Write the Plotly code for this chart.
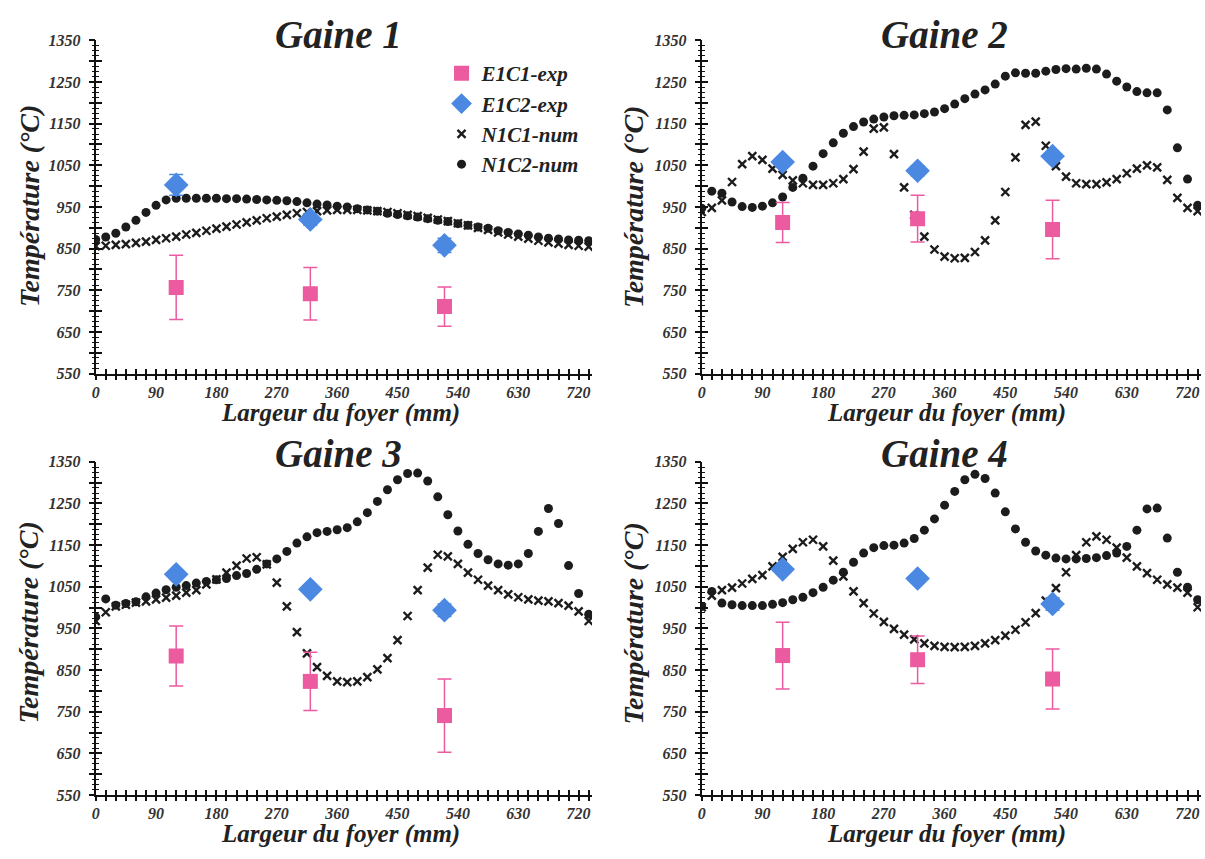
import plotly.graph_objects as go

# ---------------- data ----------------
x_mm = [0, 15, 30, 45, 60, 75, 90, 105, 120, 135, 150, 165, 180, 195, 210, 225, 240, 255,
        270, 285, 300, 315, 330, 345, 360, 375, 390, 405, 420, 435, 450, 465, 480, 495,
        510, 525, 540, 555, 570, 585, 600, 615, 630, 645, 660, 675, 690, 705, 720, 735]
x_exp = [120, 320, 520]

panel_titles = ["Gaine 1", "Gaine 2", "Gaine 3", "Gaine 4"]
series_names = ["E1C1-exp", "E1C2-exp", "N1C1-num", "N1C2-num"]
x_tick_vals = [0, 90, 180, 270, 360, 450, 540, 630, 720]
y_tick_vals = [550, 650, 750, 850, 950, 1050, 1150, 1250, 1350]

# Gaine 1
g1_e1c1 = [757, 742, 711]
g1_e1c1_err = [77, 63, 47]
g1_e1c2 = [1003, 920, 858]
g1_e1c2_err = [25, 14, 17]
g1_n1c1 = [856, 857, 859, 861, 864, 867, 871, 875, 879, 884, 888, 893, 898, 903, 908, 913, 918, 923,
           927, 931, 935, 938, 940, 942, 943, 943, 943, 942, 940, 938, 935, 931, 928, 924,
           920, 916, 911, 906, 900, 895, 889, 884, 879, 874, 869, 865, 862, 859, 857, 855]
g1_n1c2 = [872, 878, 887, 902, 918, 937, 954, 967, 971, 971, 971, 971, 971, 970, 970, 969, 968, 967,
           966, 965, 963, 960, 957, 955, 952, 950, 946, 943, 940, 935, 932, 929, 926, 922,
           918, 915, 910, 906, 902, 899, 893, 889, 885, 882, 878, 875, 873, 871, 870, 869]

# Gaine 2
g2_e1c1 = [913, 922, 896]
g2_e1c1_err = [48, 56, 70]
g2_e1c2 = [1058, 1037, 1072]
g2_e1c2_err = [10, 12, 10]
g2_n1c1 = [938, 948, 966, 1010, 1053, 1072, 1063, 1042, 1027, 1014, 1007, 1003, 1003, 1007, 1017, 1041,
           1083, 1138, 1141, 1077, 997, 931, 879, 848, 831, 827, 828, 842, 870, 918, 986, 1069,
           1147, 1155, 1097, 1048, 1023, 1007, 1005, 1005, 1009, 1017, 1031, 1042, 1050, 1045,
           1015, 972, 948, 940]
g2_n1c2 = [947, 988, 983, 962, 951, 949, 952, 960, 974, 997, 1019, 1048, 1078, 1104, 1127, 1143,
           1154, 1161, 1166, 1169, 1170, 1171, 1174, 1178, 1186, 1197, 1210, 1221, 1231, 1245,
           1264, 1272, 1271, 1271, 1276, 1280, 1282, 1281, 1283, 1281, 1269, 1252, 1238, 1227,
           1224, 1224, 1183, 1092, 1017, 954]

# Gaine 3
g3_e1c1 = [884, 823, 741]
g3_e1c1_err = [72, 70, 88]
g3_e1c2 = [1080, 1044, 994]
g3_e1c2_err = [10, 10, 15]
g3_n1c1 = [968, 989, 1003, 1007, 1012, 1015, 1020, 1024, 1029, 1036, 1042, 1056, 1068, 1084, 1101,
           1118, 1121, 1104, 1060, 1003, 941, 890, 857, 836, 823, 821, 823, 833, 852, 879, 922,
           980, 1042, 1096, 1127, 1123, 1105, 1084, 1067, 1053, 1042, 1032, 1025, 1020, 1017,
           1015, 1011, 1005, 991, 968]
g3_n1c2 = [978, 1021, 1006, 1010, 1014, 1026, 1035, 1043, 1049, 1053, 1059, 1063, 1067, 1070, 1077,
           1082, 1092, 1105, 1117, 1135, 1155, 1170, 1180, 1183, 1187, 1192, 1206, 1228, 1255,
           1283, 1307, 1322, 1323, 1304, 1266, 1223, 1184, 1152, 1130, 1115, 1105, 1102, 1105,
           1130, 1183, 1238, 1202, 1101, 1034, 984]

# Gaine 4
g4_e1c1 = [885, 875, 829]
g4_e1c1_err = [80, 57, 72]
g4_e1c2 = [1092, 1070, 1009]
g4_e1c2_err = [10, 10, 15]
g4_n1c1 = [1001, 1029, 1042, 1048, 1058, 1069, 1078, 1099, 1122, 1141, 1157, 1163, 1147, 1113, 1075,
           1039, 1011, 986, 966, 949, 935, 924, 914, 908, 906, 905, 906, 908, 914, 922, 933,
           947, 965, 987, 1017, 1047, 1085, 1126, 1157, 1171, 1163, 1144, 1120, 1099, 1083,
           1067, 1056, 1048, 1036, 1001]
g4_n1c2 = [1003, 1039, 1011, 1007, 1005, 1005, 1005, 1008, 1012, 1019, 1025, 1036, 1049, 1066, 1085,
           1109, 1131, 1144, 1149, 1150, 1155, 1166, 1186, 1213, 1246, 1279, 1307, 1320, 1310,
           1275, 1230, 1189, 1157, 1136, 1126, 1119, 1117, 1117, 1118, 1120, 1125, 1131, 1147,
           1186, 1237, 1239, 1167, 1085, 1049, 1019]

panels = [
    (g1_e1c1, g1_e1c1_err, g1_e1c2, g1_e1c2_err, g1_n1c1, g1_n1c2),
    (g2_e1c1, g2_e1c1_err, g2_e1c2, g2_e1c2_err, g2_n1c1, g2_n1c2),
    (g3_e1c1, g3_e1c1_err, g3_e1c2, g3_e1c2_err, g3_n1c1, g3_n1c2),
    (g4_e1c1, g4_e1c1_err, g4_e1c2, g4_e1c2_err, g4_n1c1, g4_n1c2),
]

# ---------------- style ----------------
W, H = 1205, 859
FONT = "Liberation Serif, Times New Roman, serif"
PINK = "#EC5AA0"
BLUE = "#4A88E2"
DARK = "#1c1c1c"
AX = "#111111"


def px_x(v):
    return v / W


def px_y(v):
    return 1 - v / H


x_domains = [(92, 590), (700, 1201), (92, 590), (700, 1201)]
y_domains = [(33, 373), (33, 373), (463, 803), (463, 803)]

fig = go.Figure()

for i, (e1, e1err, e2, e2err, n1, n2) in enumerate(panels):
    xa = "x" if i == 0 else f"x{i + 1}"
    ya = "y" if i == 0 else f"y{i + 1}"
    show = i == 0
    fig.add_trace(go.Scatter(
        x=x_mm, y=n2, xaxis=xa, yaxis=ya, mode="markers", name=series_names[3],
        legendrank=4, showlegend=show, legendgroup="n2",
        marker=dict(symbol="circle", size=9, color=DARK)))
    fig.add_trace(go.Scatter(
        x=x_mm, y=n1, xaxis=xa, yaxis=ya, mode="markers", name=series_names[2],
        legendrank=3, showlegend=show, legendgroup="n1",
        marker=dict(symbol="x-thin", size=8, color=DARK, line=dict(width=2.4, color=DARK))))
    fig.add_trace(go.Scatter(
        x=x_exp, y=e2, xaxis=xa, yaxis=ya, mode="markers", name=series_names[1],
        legendrank=2, showlegend=show, legendgroup="e2",
        error_y=dict(type="data", array=e2err, visible=True, color=BLUE, thickness=1.5, width=7),
        marker=dict(symbol="diamond", size=19, color=BLUE)))
    fig.add_trace(go.Scatter(
        x=x_exp, y=e1, xaxis=xa, yaxis=ya, mode="markers", name=series_names[0],
        legendrank=1, showlegend=show, legendgroup="e1",
        error_y=dict(type="data", array=e1err, visible=True, color=PINK, thickness=1.5, width=7),
        marker=dict(symbol="square", size=15, color=PINK)))
    # empty trace for overlay axes (outer half of crossing ticks)
    fig.add_trace(go.Scatter(x=[], y=[], xaxis=f"x{i + 5}", yaxis=f"y{i + 5}",
                             showlegend=False, hoverinfo="skip"))

tick_font = dict(family=FONT, size=16, color="#333333", weight="bold", style="italic")
y_major = [550 + 50 * k for k in range(17)]
y_major_text = [str(v) if v in y_tick_vals else "" for v in y_major]

layout = dict(
    width=W, height=H, margin=dict(l=0, r=0, t=0, b=0),
    paper_bgcolor="white", plot_bgcolor="white",
    showlegend=True,
    legend=dict(x=px_x(439), y=px_y(46), xanchor="left", yanchor="top",
                font=dict(family=FONT, size=21, color="#222222", weight="bold", style="italic"),
                bgcolor="rgba(0,0,0,0)", itemwidth=30, tracegroupgap=0,
                traceorder="normal"),
    annotations=[],
)

for i in range(4):
    sx = "" if i == 0 else str(i + 1)
    xd = [px_x(x_domains[i][0]), px_x(x_domains[i][1])]
    yd = [px_y(y_domains[i][1]), px_y(y_domains[i][0])]
    # main axes: line, labels, inner half of the ticks
    layout[f"xaxis{sx}"] = dict(
        domain=xd, anchor=f"y{sx}", range=[0, 740], showgrid=False, zeroline=False,
        showline=True, linecolor=AX, linewidth=2,
        tickmode="array", tickvals=x_tick_vals, ticks="inside", ticklen=5, tickwidth=1.5,
        tickcolor=AX, tickfont=tick_font, ticklabelstandoff=3,
        minor=dict(dtick=15, tick0=0, ticks="inside", ticklen=5, tickwidth=1.5, tickcolor=AX),
    )
    layout[f"yaxis{sx}"] = dict(
        domain=yd, anchor=f"x{sx}", range=[550, 1350], showgrid=False, zeroline=False,
        showline=True, linecolor=AX, linewidth=2,
        tickmode="array", tickvals=y_major, ticktext=y_major_text,
        ticks="inside", ticklen=6, tickwidth=1.5, tickcolor=AX, tickfont=tick_font,
        ticklabelstandoff=10,
        minor=dict(dtick=12.5, tick0=550, ticks="inside", ticklen=3, tickwidth=1, tickcolor=AX),
    )
    ox = str(i + 5)
    # overlay axes: outer half of the ticks
    layout[f"xaxis{ox}"] = dict(
        overlaying=f"x{sx}" if sx else "x", anchor=f"y{sx}" if sx else "y", range=[0, 740],
        showgrid=False, zeroline=False, showline=False, showticklabels=False,
        tickmode="array", tickvals=x_tick_vals, ticks="outside", ticklen=5, tickwidth=1.5,
        tickcolor=AX,
        minor=dict(dtick=15, tick0=0, ticks="outside", ticklen=5, tickwidth=1.5, tickcolor=AX),
    )
    layout[f"yaxis{ox}"] = dict(
        overlaying=f"y{sx}" if sx else "y", anchor=f"x{sx}" if sx else "x", range=[550, 1350],
        showgrid=False, zeroline=False, showline=False, showticklabels=False,
        tickmode="array", tickvals=y_major, ticks="outside", ticklen=6, tickwidth=1.5,
        tickcolor=AX,
        minor=dict(dtick=12.5, tick0=550, ticks="outside", ticklen=3, tickwidth=1, tickcolor=AX),
    )

title_pos = [(336, 27), (944, 27), (336, 455), (944, 455)]
ytitle_pos = [(25, 202), (632, 203), (25, 627), (632, 628)]
xtitle_pos = [(338, 413), (946, 413), (338, 843), (946, 843)]
for i in range(4):
    layout["annotations"].append(dict(
        text=panel_titles[i], x=px_x(title_pos[i][0]), y=px_y(title_pos[i][1]),
        xref="paper", yref="paper", showarrow=False, xanchor="center", yanchor="middle",
        font=dict(family=FONT, size=39, color="#222222", weight="bold", style="italic")))
    layout["annotations"].append(dict(
        text="Température (°C)", x=px_x(ytitle_pos[i][0]), y=px_y(ytitle_pos[i][1]),
        xref="paper", yref="paper", showarrow=False, xanchor="center", yanchor="middle",
        textangle=-90,
        font=dict(family=FONT, size=28, color="#222222", weight="bold", style="italic")))
    layout["annotations"].append(dict(
        text="Largeur du foyer (mm)", x=px_x(xtitle_pos[i][0]), y=px_y(xtitle_pos[i][1]),
        xref="paper", yref="paper", showarrow=False, xanchor="center", yanchor="middle",
        font=dict(family=FONT, size=25, color="#222222", weight="bold", style="italic")))

fig.update_layout(**layout)
fig.write_html(
    "out.html",
    config={"displayModeBar": False, "responsive": False},
    post_script=("document.body.style.margin='0';"
                 "document.body.style.overflow='hidden';"
                 "document.documentElement.style.overflow='hidden';"),
)
